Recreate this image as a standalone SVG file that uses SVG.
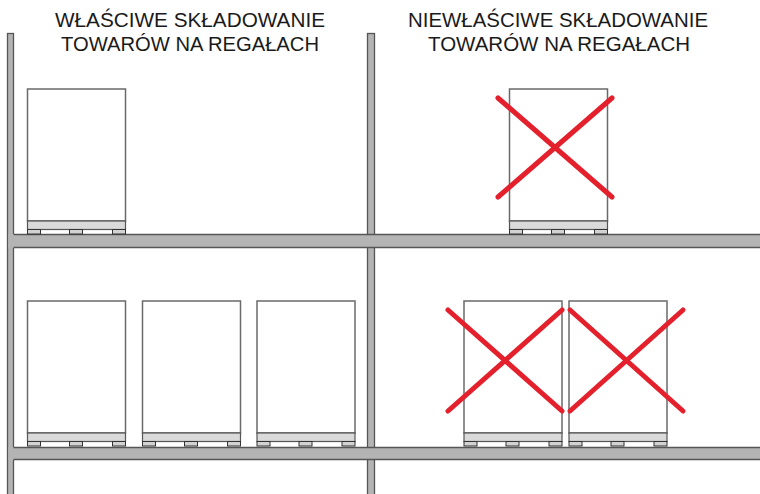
<svg xmlns="http://www.w3.org/2000/svg" xmlns:xlink="http://www.w3.org/1999/xlink" width="760" height="494" viewBox="0 0 760 494">
<style>
.title{font-family:"Liberation Sans",Arial,sans-serif;font-size:20px;fill:#1a1a1a;text-anchor:middle}
.steel{fill:#b4b4b4}
.edge{stroke:#555;stroke-width:1.5;fill:none}
.box{fill:#fff;stroke:#6a6a6a;stroke-width:1.5}
.deck{fill:#dadada;stroke:#555;stroke-width:1.2}
.block{fill:#d2d2d2;stroke:#333;stroke-width:1}
.cross{stroke:#e3202b;stroke-width:5;stroke-linecap:round;fill:none}
</style>
<defs>
<g id="unit">
<rect class="box" x="0.5" y="0.5" width="98" height="132"/>
<rect class="deck" x="0.5" y="132.5" width="98" height="8.5"/>
<rect class="block" x="0.5" y="141" width="13" height="4.5"/>
<rect class="block" x="42.5" y="141" width="13" height="4.5"/>
<rect class="block" x="85.5" y="141" width="13" height="4.5"/>
</g>
</defs>
<rect width="760" height="494" fill="#fff"/>
<g id="titles">
<text class="title" x="190" y="27" textLength="270" lengthAdjust="spacingAndGlyphs">WŁAŚCIWE SKŁADOWANIE</text>
<text class="title" x="190" y="51" textLength="258" lengthAdjust="spacingAndGlyphs">TOWARÓW NA REGAŁACH</text>
<text class="title" x="558" y="27" textLength="300" lengthAdjust="spacingAndGlyphs">NIEWŁAŚCIWE SKŁADOWANIE</text>
<text class="title" x="559" y="51" textLength="262" lengthAdjust="spacingAndGlyphs">TOWARÓW NA REGAŁACH</text>
</g>
<g id="rack">
<rect class="steel" x="7.5" y="33.5" width="6" height="462" stroke="#555" stroke-width="1.3"/>
<rect class="steel" x="367.5" y="33.5" width="7" height="462" stroke="#555" stroke-width="1.3"/>
<rect class="steel" x="8.2" y="234" width="752" height="14"/>
<line class="edge" x1="13.5" y1="234.5" x2="760" y2="234.5"/>
<line class="edge" x1="13.5" y1="247.5" x2="760" y2="247.5"/>
<rect class="steel" x="8.2" y="447" width="752" height="13"/>
<line class="edge" x1="13.5" y1="447.5" x2="760" y2="447.5"/>
<line class="edge" x1="13.5" y1="459.5" x2="760" y2="459.5"/>
</g>
<g id="pallet-left-top"><use xlink:href="#unit" x="27" y="88.5"/></g>
<g id="pallet-left-bottom-1"><use xlink:href="#unit" x="27" y="300.5"/></g>
<g id="pallet-left-bottom-2"><use xlink:href="#unit" x="142" y="300.5"/></g>
<g id="pallet-left-bottom-3"><use xlink:href="#unit" x="256.5" y="300.5"/></g>
<g id="pallet-right-top"><use xlink:href="#unit" x="509" y="88.5"/></g>
<g id="pallet-right-bottom-1"><use xlink:href="#unit" x="463.5" y="300.5"/></g>
<g id="pallet-right-bottom-2"><use xlink:href="#unit" x="568.5" y="300.5"/></g>
<g id="crosses">
<line class="cross" x1="498" y1="98" x2="612" y2="197"/>
<line class="cross" x1="612" y1="98" x2="498" y2="197"/>
<line class="cross" x1="448" y1="310" x2="562" y2="411"/>
<line class="cross" x1="562" y1="310" x2="448" y2="411"/>
<line class="cross" x1="570" y1="310" x2="683" y2="411"/>
<line class="cross" x1="683" y1="310" x2="570" y2="411"/>
</g>
</svg>
